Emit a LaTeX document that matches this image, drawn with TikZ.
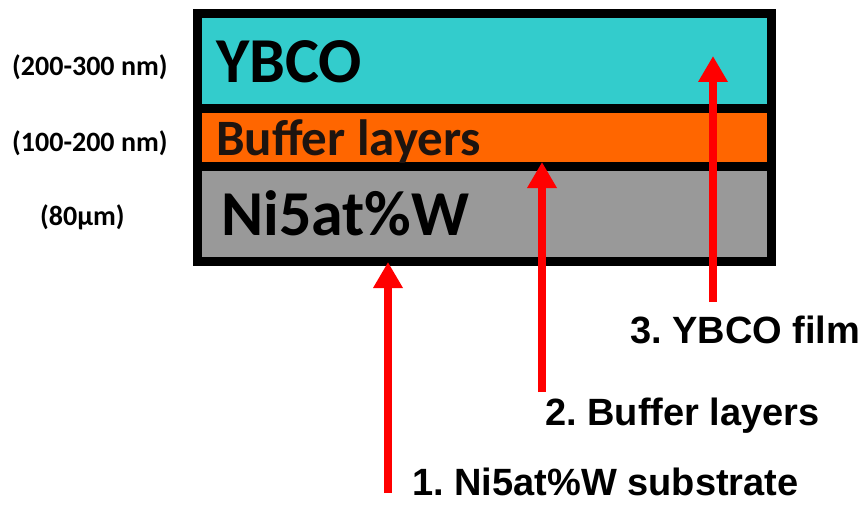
\documentclass[tikz,border=0pt]{standalone}
\usepackage{fontspec}
\newfontfamily\calib{Carlito}
\newfontfamily\arialf{Liberation Sans}
\usetikzlibrary{arrows.meta}
\definecolor{ycyan}{RGB}{51,204,204}
\definecolor{borange}{RGB}{255,102,0}
\definecolor{sgray}{RGB}{153,153,153}
\definecolor{ared}{RGB}{255,0,0}
\definecolor{dtext}{RGB}{30,20,15}
\frenchspacing
\begin{document}
\begin{tikzpicture}[x=1pt,y=-1pt,
  bigtext/.style={anchor=base west, inner sep=0pt, font=\calib\bfseries\fontsize{64}{64}\selectfont},
  midtext/.style={anchor=base west, inner sep=0pt, text=dtext, font=\calib\bfseries\fontsize{51}{51}\selectfont},
  thick/.style={anchor=west, inner sep=0pt, font=\calib\bfseries\fontsize{28}{28}\selectfont},
  steplabel/.style={anchor=base west, inner sep=0pt, font=\arialf\bfseries\fontsize{38}{38}\selectfont},
  border/.style={line width=9pt, draw=black},
  redarrow/.style={draw=ared, line width=8pt, -{Triangle[width=28pt,length=26pt]}}]
\useasboundingbox (0,0) rectangle (862,508);
\fill[white] (0,0) rectangle (862,508);
% layers
\fill[ycyan] (193,9) rectangle (776,108.5);
\fill[borange] (193,108.5) rectangle (776,166.5);
\fill[sgray] (193,166.5) rectangle (776,266);
\draw[border] (197.5,13.5) rectangle (771.5,261.5);
\draw[border] (193,108.5) -- (776,108.5);
\draw[border] (193,166.5) -- (776,166.5);
% layer names
\node[bigtext] (ybco) at (216,83) {YBCO};
\node[midtext] (buf) at (216,156) {Buffer layers};
\node[bigtext] (ni) at (221,235) {Ni5at\%W};
% thickness labels
\node[thick] (th1) at (12,67) {(200-300 nm)};
\node[thick] (th2) at (12,143) {(100-200 nm)};
\node[thick] (th3) at (40,217) {(80µm)};
% arrows
\coordinate (t1) at (388,262);
\coordinate (s1) at (388,493);
\coordinate (t2) at (542,162);
\coordinate (s2) at (542,392);
\coordinate (t3) at (713,56);
\coordinate (s3) at (713,302);
\draw[redarrow] (s1) -- (t1);
\draw[redarrow] (s2) -- (t2);
\draw[redarrow] (s3) -- (t3);
% step labels
\node[steplabel] (l1) at (412,495) {1. Ni5at\%W substrate};
\node[steplabel] (l2) at (545,425) {2. Buffer layers};
\node[steplabel] (l3) at (630,343) {3. YBCO film};
\end{tikzpicture}
\end{document}
